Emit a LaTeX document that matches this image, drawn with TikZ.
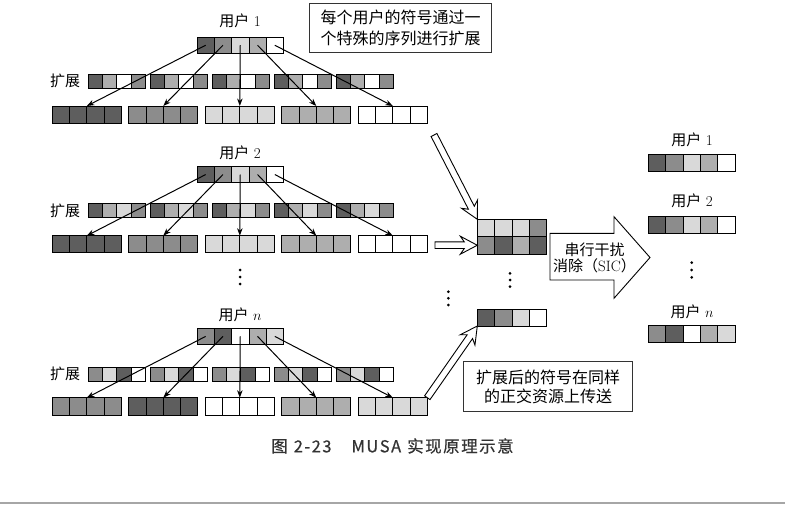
\documentclass[tikz,border=0pt]{standalone}
\usepackage{fontspec}
\newfontfamily\cjk{Noto Sans CJK SC}
\newfontfamily\capfont[FakeBold=0.6]{Noto Sans CJK SC}
\usetikzlibrary{arrows.meta,calc}
\definecolor{dk}{HTML}{5E5E5E}
\definecolor{md}{HTML}{8C8C8C}
\definecolor{ml}{HTML}{AEAEAE}
\definecolor{lt}{HTML}{D9D9D9}
\definecolor{wh}{HTML}{FFFFFF}
\definecolor{capc}{HTML}{333333}
\definecolor{rulec}{HTML}{A6A6A6}
% #1 name, #2 x, #3 y, #4 cell width, #5 height, #6 colours
\newcommand\cellrow[6]{%
  \foreach \cc [count=\ii] in {#6} {%
    \node[cell, fill=\cc, minimum width=#4pt, minimum height=#5pt, anchor=north west]
      (#1-\ii) at ({#2+(\ii-1)*#4}, #3) {};
  }}
\newcommand\fatarrow[2]{%
  \coordinate (fa-h) at ($(#2)!13pt!(#1)$);
  \coordinate (fa-b) at ($(#2)!17pt!(#1)$);
  \draw[fat] ($(#1)!3.3pt!90:(#2)$) -- ($(fa-h)!3.3pt!90:(#2)$) -- ($(fa-b)!9pt!90:(#2)$)
    -- (#2) -- ($(fa-b)!9pt!-90:(#2)$) -- ($(fa-h)!3.3pt!-90:(#2)$) -- ($(#1)!3.3pt!-90:(#2)$) -- cycle;}
\newcommand\cs{\hspace{1.5pt}}
\begin{document}
\begin{tikzpicture}[x=1pt,y=-1pt,
  cell/.style={draw=black, line width=0.8pt, inner sep=0pt, outer sep=0pt},
  arr/.style={line width=1pt, -{Stealth[length=7.5pt,width=5.5pt]}},
  fat/.style={draw=black, line width=0.9pt, fill=white, line join=miter},
  lbl/.style={font=\fontsize{15}{18}\selectfont, inner sep=0pt},
  note/.style={draw=black!80, line width=1pt, inner sep=0pt, align=center},
  dotc/.style={fill=black}]
\useasboundingbox (0,0) rectangle (785,511);

% ---------- user 1 ----------
\node[lbl] (l1) at (240,21) {{\cjk 用户} 1};
\cellrow{u1}{197}{37}{17.3}{16.5}{dk,md,lt,ml,wh}
\node[lbl] (k1) at (65,81) {\cjk 扩展};
\foreach \g in {1,...,5} {\cellrow{u1s\g}{88.3+62*(\g-1)}{74}{14.2}{14}{dk,ml,wh,md}}
\foreach \g/\c in {1/dk,2/md,3/lt,4/ml,5/wh} {\cellrow{u1r\g}{52.3+76.5*(\g-1)}{106}{17.25}{17}{\c,\c,\c,\c}}
\foreach \i in {1,...,5} {\draw[arr] (u1-\i.center) -- (u1r\i-2.north east);}

% ---------- user 2 ----------
\node[lbl] (l2) at (240,153) {{\cjk 用户} 2};
\cellrow{u2}{197}{166.3}{17.3}{16.5}{dk,md,lt,ml,wh}
\node[lbl] (k2) at (65,210.5) {\cjk 扩展};
\foreach \g in {1,...,5} {\cellrow{u2s\g}{88.3+62*(\g-1)}{203.5}{14.2}{14}{dk,ml,lt,md}}
\foreach \g/\c in {1/dk,2/md,3/lt,4/ml,5/wh} {\cellrow{u2r\g}{52.3+76.5*(\g-1)}{235.7}{17.25}{17}{\c,\c,\c,\c}}
\foreach \i in {1,...,5} {\draw[arr] (u2-\i.center) -- (u2r\i-2.north east);}

% ---------- user n ----------
\node[lbl] (ln) at (240,315) {{\cjk 用户} $n$};
\cellrow{un}{197}{328}{17.3}{16.8}{md,dk,wh,ml,lt}
\node[lbl] (kn) at (65,374) {\cjk 扩展};
\foreach \g in {1,...,5} {\cellrow{uns\g}{88.3+62*(\g-1)}{367.5}{14.2}{13.8}{md,lt,dk,wh}}
\foreach \g/\c in {1/md,2/dk,3/wh,4/ml,5/lt} {\cellrow{unr\g}{52.3+76.5*(\g-1)}{397.7}{17.25}{17.3}{\c,\c,\c,\c}}
\foreach \i in {1,...,5} {\draw[arr] (un-\i.center) -- (unr\i-2.north east);}

% ---------- vertical dots ----------
\foreach \yy in {270,277,284} {\fill[dotc] (240,\yy) circle (1.5pt);}
\foreach \yy in {291.7,298.3,305} {\fill[dotc] (448.3,\yy) circle (1.5pt);}
\foreach \yy in {273.3,280,286.7} {\fill[dotc] (510,\yy) circle (1.5pt);}
\foreach \yy in {262.7,270,277.3} {\fill[dotc] (691.7,\yy) circle (1.5pt);}

% ---------- combined resource ----------
\cellrow{cb1}{477.3}{219.3}{17.35}{17.3}{lt,lt,lt,md}
\cellrow{cb2}{477.3}{236.6}{17.35}{17.3}{md,dk,ml,dk}
\cellrow{bn}{477.3}{309.3}{17.35}{16.7}{dk,md,lt,wh}

% ---------- hollow arrows ----------
\coordinate (t1) at (434,135);
\coordinate (t2) at (435,245.2);
\fatarrow{t1}{cb1-1.north west}
\fatarrow{t2}{cb2-1.west}
\fatarrow{unr5-4.north east}{bn-1.south west}

% ---------- SIC arrow ----------
\draw[fat] (550,233.3) -- (614,233.3) -- (614,216.7) -- (650,257.5) -- (614,298.3) -- (614,280) -- (550,280) -- cycle;
\node[lbl, align=center, font=\fontsize{15}{16.5}\selectfont] (sic) at (594.5,258) {{\cjk 串行干扰}\\{\cjk 消除（}SIC{\cjk ）}};

% ---------- outputs ----------
\node[lbl] (o1l) at (692,140) {{\cjk 用户} 1};
\cellrow{o1}{648.3}{154.3}{17.33}{17.3}{dk,md,lt,ml,wh}
\node[lbl] (o2l) at (692,201) {{\cjk 用户} 2};
\cellrow{o2}{648.3}{216.7}{17.33}{16.8}{dk,md,lt,ml,wh}
\node[lbl] (onl) at (692,311.7) {{\cjk 用户} $n$};
\cellrow{on}{648.3}{325.7}{17.33}{17}{md,dk,wh,ml,lt}

% ---------- notes ----------
\node[note, minimum width=182.4pt, minimum height=49pt, font=\cjk\fontsize{16}{21}\selectfont]
  (n1) at (400.5,27.8) {每个用户的符号通过一\\个特殊的序列进行扩展};
\node[note, minimum width=169.4pt, minimum height=50pt, font=\cjk\fontsize{16}{18.5}\selectfont]
  (n2) at (548,386.7) {扩展后的符号在同样\\的正交资源上传送};

% ---------- caption and rule ----------
\node[font=\capfont\fontsize{16.5}{19}\selectfont, text=capc, inner sep=0pt] (cap) at (392.5,446)
  {图\hspace{6pt}2\cs-\cs2\cs3\hspace{20pt}M\cs U\cs S\cs A\hspace{6pt}实\cs 现\cs 原\cs 理\cs 示\cs 意};
\draw[rulec, line width=2.5pt] (0,503) -- (785,503);
\end{tikzpicture}
\end{document}
